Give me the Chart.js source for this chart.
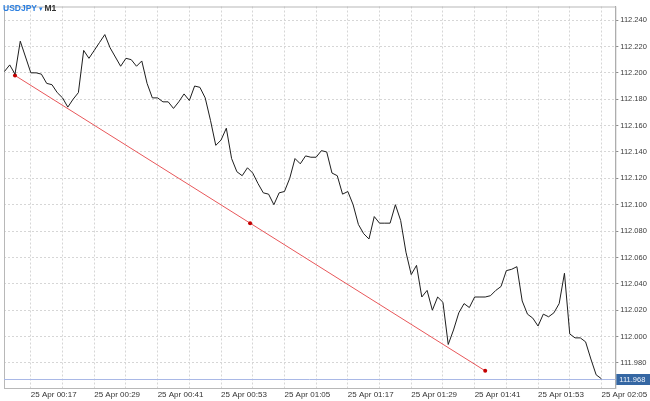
<!DOCTYPE html>
<html>
<head>
<meta charset="utf-8">
<script src="https://cdn.jsdelivr.net/npm/chart.js@4"></script>
<style>
html, body { margin: 0; padding: 0; background: #fff; }
#wrap { width: 650px; height: 401px; }
</style>
</head>
<body>
<div id="wrap"><canvas id="chart" width="650" height="401"></canvas></div>
<script>
// USDJPY M1 closes, one per minute starting 25 Apr 00:12
const symbol = 'USDJPY';
const timeframe = 'M1';
const prices = [
    112.201, 112.206, 112.199, 112.224, 112.212, 112.200, 112.200, 112.199, 112.192, 112.191,
    112.185, 112.181, 112.174, 112.180, 112.185, 112.217, 112.211, 112.217, 112.223, 112.229,
    112.219, 112.212, 112.205, 112.211, 112.210, 112.205, 112.209, 112.192, 112.181, 112.181,
    112.178, 112.178, 112.173, 112.178, 112.184, 112.179, 112.190, 112.189, 112.181, 112.164,
    112.145, 112.149, 112.158, 112.135, 112.125, 112.122, 112.128, 112.124, 112.116, 112.109,
    112.108, 112.100, 112.109, 112.110, 112.120, 112.135, 112.131, 112.137, 112.136, 112.136,
    112.141, 112.140, 112.124, 112.122, 112.108, 112.110, 112.100, 112.085, 112.078, 112.074,
    112.091, 112.086, 112.086, 112.086, 112.100, 112.088, 112.064, 112.047, 112.054, 112.030,
    112.035, 112.020, 112.030, 112.026, 111.994, 112.005, 112.018, 112.025, 112.022, 112.030,
    112.030, 112.030, 112.031, 112.035, 112.038, 112.050, 112.051, 112.053, 112.027, 112.017,
    112.014, 112.008, 112.017, 112.015, 112.018, 112.025, 112.048, 112.002, 111.999, 111.999,
    111.996, 111.983, 111.971, 111.968
];

// trendline drawn on the chart (two anchors + middle handle)
const trendIdx = [2, 46.5, 91];
const trendPrices = [112.198, 112.086, 111.974];

// axis ticks
const xTickLabels = ['25 Apr 00:17', '25 Apr 00:29', '25 Apr 00:41', '25 Apr 00:53', '25 Apr 01:05',
    '25 Apr 01:17', '25 Apr 01:29', '25 Apr 01:41', '25 Apr 01:53', '25 Apr 02:05'];
const xTickFirst = 5;      // bar index of 00:17
const xLabelStep = 12;     // minutes between labels
const xGridStep = 6;       // minutes between grid lines
const yTicks = [111.98, 112.00, 112.02, 112.04, 112.06, 112.08, 112.10, 112.12, 112.14, 112.16, 112.18, 112.20, 112.22, 112.24];

const lastPrice = prices[prices.length - 1];
const FONT = '"Liberation Sans", Arial, sans-serif';

// frame + current price line under the series
const framePlugin = {
    id: 'frame',
    beforeDatasetsDraw(chart) {
        const { ctx, chartArea: a, scales } = chart;
        ctx.save();
        ctx.strokeStyle = '#b8b8b8';
        ctx.lineWidth = 1;
        ctx.strokeRect(a.left + 0.5, a.top + 0.5, a.right - a.left, a.bottom - a.top);
        const y = Math.round(scales.y.getPixelForValue(lastPrice)) + 0.5;
        ctx.strokeStyle = '#a9b8e6';
        ctx.beginPath();
        ctx.moveTo(a.left, y);
        ctx.lineTo(a.right, y);
        ctx.stroke();
        ctx.restore();
    },
    afterDraw(chart) {
        const { ctx, chartArea: a, scales } = chart;
        ctx.save();
        // symbol / timeframe caption
        ctx.font = '600 8.5px ' + FONT;
        ctx.textBaseline = 'middle';
        ctx.fillStyle = '#2b7fe0';
        ctx.fillText(symbol, 3, 9);
        let x = 3 + ctx.measureText(symbol).width + 2;
        ctx.font = '7px "DejaVu Sans", sans-serif';
        ctx.fillText('\u25BE', x, 9);
        x += ctx.measureText('\u25BE').width + 2;
        ctx.font = '600 8.5px ' + FONT;
        ctx.fillStyle = '#333';
        ctx.fillText(timeframe, x, 9);
        // last price tag on the axis
        const y = scales.y.getPixelForValue(lastPrice);
        ctx.fillStyle = '#3567a3';
        ctx.fillRect(a.right + 1, Math.round(y) - 5, chart.width - a.right - 1, 11);
        ctx.fillStyle = '#eef3fb';
        ctx.font = '7.5px ' + FONT;
        ctx.fillText(lastPrice.toFixed(3), a.right + 4, Math.round(y) + 0.5);
        ctx.restore();
    }
};

function xLabel(value) {
    const k = (value - xTickFirst) / xLabelStep;
    return Number.isInteger(k) ? xTickLabels[k] : '';
}

new Chart(document.getElementById('chart'), {
    type: 'line',
    data: {
        datasets: [
            {
                label: symbol,
                data: prices.map((p, i) => ({ x: i, y: p })),
                borderColor: '#1e1e1e',
                borderWidth: 1,
                pointRadius: 0,
                tension: 0
            },
            {
                label: 'Trendline',
                data: trendIdx.map((t, i) => ({ x: t, y: trendPrices[i] })),
                borderColor: '#e8575a',
                borderWidth: 1,
                pointRadius: 2,
                pointBackgroundColor: '#c40000',
                pointBorderColor: '#c40000',
                pointBorderWidth: 0,
                tension: 0
            }
        ]
    },
    options: {
        responsive: false,
        animation: false,
        layout: { padding: { left: 2, top: 2, right: 0, bottom: 0 } },
        plugins: {
            legend: { display: false },
            tooltip: { enabled: false }
        },
        scales: {
            x: {
                type: 'linear',
                min: -0.08,
                max: 115.63,
                afterBuildTicks(scale) {
                    const t = [];
                    for (let v = xTickFirst; v <= prices.length - 1; v += xGridStep) t.push({ value: v });
                    scale.ticks = t;
                },
                afterFit(scale) { scale.height = 13; },
                grid: {
                    color: '#d6d6d6',
                    drawTicks: false
                },
                border: { display: true, color: '#b8b8b8', width: 1, dash: [2, 2] },
                ticks: {
                    autoSkip: false,
                    maxRotation: 0,
                    align: 'start',
                    padding: 2,
                    color: '#333',
                    font: { family: FONT, size: 8 },
                    callback: (v) => xLabel(v)
                }
            },
            y: {
                position: 'right',
                min: 111.961,
                max: 112.2503,
                afterBuildTicks(scale) {
                    scale.ticks = yTicks.map(v => ({ value: v }));
                },
                afterFit(scale) { scale.width = 33; },
                grid: {
                    color: '#d6d6d6',
                    tickLength: 3,
                    tickColor: '#8a8a8a',
                    tickBorderDash: []
                },
                border: { display: true, color: '#9a9a9a', width: 1, dash: [2, 2] },
                ticks: {
                    padding: 2,
                    color: '#3a3a3a',
                    font: { family: FONT, size: 7.5 },
                    callback: (v) => Number(v).toFixed(3)
                }
            }
        }
    },
    plugins: [framePlugin]
});
</script>
</body>
</html>
